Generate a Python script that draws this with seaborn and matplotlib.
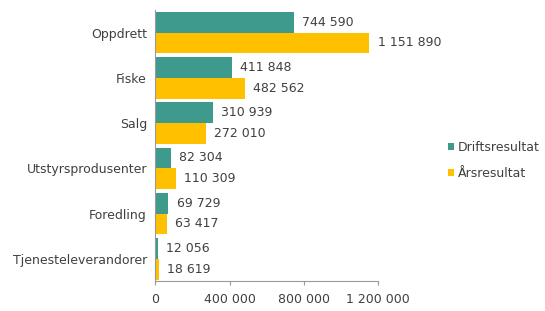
import matplotlib
matplotlib.use("Agg")
import matplotlib.pyplot as plt
import numpy as np
import pandas as pd
import seaborn as sns

categories = ["Oppdrett", "Fiske", "Salg", "Utstyrsprodusenter", "Foredling", "Tjenesteleverandorer"]
drift = [744590, 411848, 310939, 82304, 69729, 12056]
aars = [1151890, 482562, 272010, 110309, 63417, 18619]
series = ["Driftsresultat", "Årsresultat"]
colors = ["#3F9A8E", "#FFC000"]
xticks = [0, 400000, 800000, 1200000]

df = pd.DataFrame({
    "kategori": categories * 2,
    "verdi": drift + aars,
    "serie": [series[0]] * len(categories) + [series[1]] * len(categories),
})


def fmt(v):
    return f"{int(v):,}".replace(",", " ")


sns.set_style("white")
plt.rcParams["font.family"] = ["DejaVu Sans"]
txt = "#404040"
fs = 9

fig = plt.figure(figsize=(5.45, 3.11), dpi=100)
ax = fig.add_axes([0.285, 0.095, 0.409, 0.873])

sns.barplot(data=df, y="kategori", x="verdi", hue="serie", order=categories,
            hue_order=series, palette=colors, orient="h", width=0.92,
            saturation=1, linewidth=0, ax=ax)

for cont in ax.containers:
    ax.bar_label(cont, labels=[fmt(v) for v in cont.datavalues], padding=6,
                 fontsize=fs, color=txt)

ax.set_xlim(0, 1200000)
ax.set_ylim(len(categories) - 0.5, -0.5)
ax.set_xticks(xticks)
ax.set_xticklabels([fmt(t) for t in xticks], fontsize=fs, color=txt)
ax.tick_params(axis="x", pad=5, length=3, color="#999999", direction="out")
ax.tick_params(axis="y", labelsize=fs, labelcolor=txt, length=0, pad=6)
ax.set_yticks(np.arange(-0.5, len(categories)), minor=True)
ax.tick_params(axis="y", which="minor", length=3, color="#999999")
ax.xaxis.set_tick_params(bottom=True)
ax.set_xlabel("")
ax.set_ylabel("")

for s in ["top", "right"]:
    ax.spines[s].set_visible(False)
for s in ["left", "bottom"]:
    ax.spines[s].set_color("#999999")
    ax.spines[s].set_linewidth(0.8)

ax.legend(loc="center left", bbox_to_anchor=(0.822, 0.484), bbox_transform=fig.transFigure,
          frameon=False, fontsize=fs, handlelength=0.5, handleheight=0.5,
          handletextpad=0.3, labelspacing=1.0, labelcolor=txt,
          borderaxespad=0, borderpad=0)

fig.savefig("out.png", dpi=100)
